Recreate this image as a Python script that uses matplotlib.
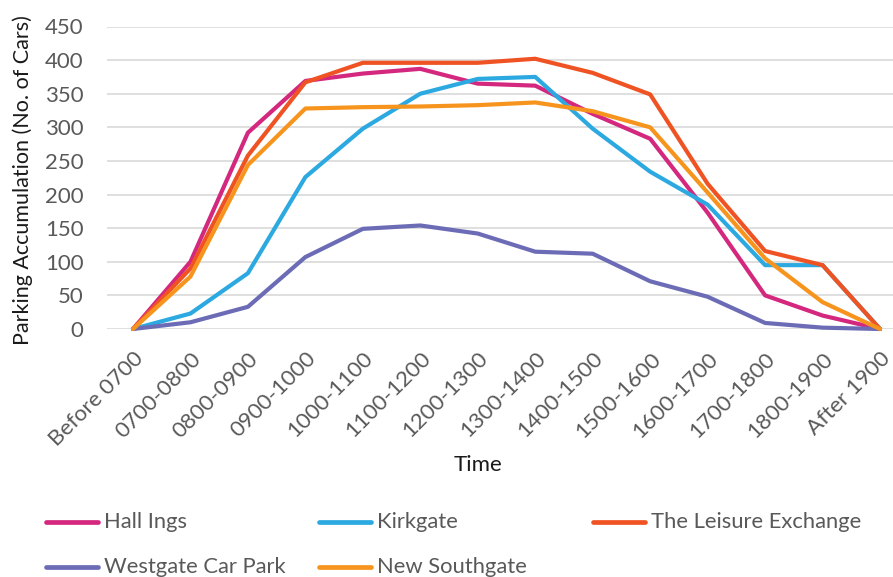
import matplotlib
matplotlib.use("Agg")
import matplotlib.pyplot as plt
from matplotlib.lines import Line2D

plt.rcParams['font.family'] = ['Lato', 'DejaVu Sans']

# Time periods on the x axis
periods = ["Before 0700", "0700-0800", "0800-0900", "0900-1000", "1000-1100",
           "1100-1200", "1200-1300", "1300-1400", "1400-1500", "1500-1600",
           "1600-1700", "1700-1800", "1800-1900", "After 1900"]

# Parking accumulation (number of cars) per car park
hall_ings = [0, 100, 292, 369, 380, 387, 365, 362, 320, 283, 173, 50, 20, 0]
kirkgate = [0, 23, 83, 226, 298, 350, 372, 375, 298, 234, 185, 95, 95, 0]
leisure_exchange = [0, 90, 258, 367, 396, 396, 396, 402, 381, 349, 216, 116, 95, 0]
westgate = [0, 10, 33, 107, 149, 154, 142, 115, 112, 71, 48, 9, 2, 0]
new_southgate = [0, 78, 244, 328, 330, 331, 333, 337, 324, 300, 203, 105, 40, 0]

series_names = ["Hall Ings", "Kirkgate", "The Leisure Exchange",
                "Westgate Car Park", "New Southgate"]
series_values = [hall_ings, kirkgate, leisure_exchange, westgate, new_southgate]
series_colors = ["#D4287F", "#2CA9E1", "#F05323", "#6B6CB5", "#F7941D"]

y_ticks = [0, 50, 100, 150, 200, 250, 300, 350, 400, 450]

W, H = 893, 577
AX_L, AX_B, AX_T = 107, 329, 26.5
ax_w, ax_h = W - AX_L, AX_B - AX_T
fig = plt.figure(figsize=(W / 100, H / 100), dpi=100)
ax = fig.add_axes([AX_L / W, 1 - AX_B / H, ax_w / W, ax_h / H])

x = list(range(len(periods)))
for name, vals, col in zip(series_names, series_values, series_colors):
    ax.plot(x, vals, color=col, lw=3.0, solid_joinstyle='round',
            solid_capstyle='round', clip_on=False, label=name, zorder=3)

ax.set_xlim(-0.452, 13.226)
ax.set_ylim(0, 450)
ax.set_yticks(y_ticks)
ax.set_xticks(x)
ax.set_xticklabels(periods, rotation=45, ha='right', rotation_mode='anchor')
ax.tick_params(axis='both', length=0, labelsize=16, labelcolor='#595959')
ax.tick_params(axis='y', pad=17)
ax.tick_params(axis='x', pad=14)
ax.grid(axis='y', color='#D9D9D9', lw=1.2, zorder=0)
for s in ax.spines.values():
    s.set_visible(False)

ax.set_ylabel("Parking Accumulation (No. of Cars)", fontsize=15.5, color='#1a1a1a')
ax.yaxis.set_label_coords((33 - AX_L) / ax_w, (AX_B - 180) / ax_h)
ax.set_xlabel("Time", fontsize=16, color='#1a1a1a', va='center')
ax.xaxis.set_label_coords((478 - AX_L) / ax_w, (AX_B - 465) / ax_h)

# Legend laid out in rows of three
legend_slots = [(45, 522), (318, 522), (592, 522), (45, 567), (318, 567)]
for (px, py), name, col in zip(legend_slots, series_names, series_colors):
    fy = 1 - py / H
    fig.add_artist(Line2D([(px + 1) / W, (px + 53) / W], [fy, fy], color=col, lw=3.4,
                          solid_capstyle='round', transform=fig.transFigure))
    fig.text((px + 59) / W, fy, name, fontsize=15.8, color='#595959', va='center', ha='left')

fig.savefig("out.png", dpi=100)
